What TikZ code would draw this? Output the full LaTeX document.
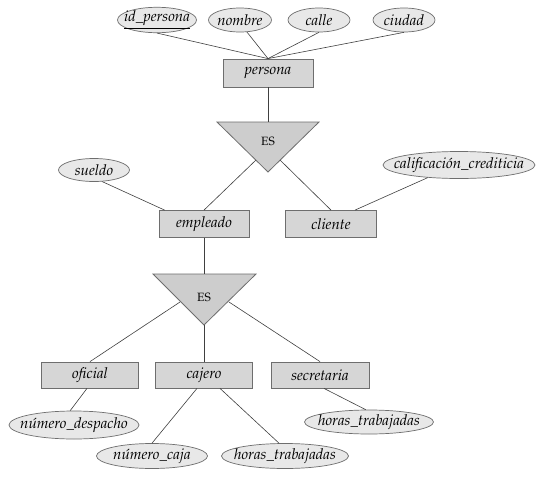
\documentclass[tikz,border=0pt]{standalone}
\usepackage[T1]{fontenc}
\usepackage{mathpazo}
\usetikzlibrary{calc,shapes.geometric}
\definecolor{rectfill}{HTML}{D6D6D6}
\definecolor{ellfill}{HTML}{E8E8E8}
\definecolor{trifill}{HTML}{CDCDCD}
\definecolor{edgegray}{HTML}{6E6E6E}
\newcommand\attrtxt[1]{\makebox[0pt]{#1}}
\tikzset{
  entity/.style={draw=edgegray, fill=rectfill, line width=0.8pt, inner sep=0pt,
    minimum height=27pt, font=\fontsize{15}{17}\selectfont\itshape},
  attr/.style={ellipse, draw=edgegray, fill=ellfill, line width=0.7pt, inner sep=0pt,
    minimum height=24pt, font=\fontsize{15}{17}\selectfont\itshape},
  isa/.style={draw=edgegray, fill=trifill, line width=0.8pt},
  isatext/.style={font=\fontsize{12}{14}\selectfont\upshape, inner sep=0pt},
  conn/.style={draw=black!75, line width=0.6pt}
}
\begin{document}
\begin{tikzpicture}[x=1pt,y=-1pt]
\useasboundingbox[fill=white] (0,0) rectangle (547,493);
% top attributes
\node[attr, minimum width=79pt] (id) at (157,20) {\attrtxt{\underline{id\_persona}}};
\node[attr, minimum width=63pt] (nombre) at (240,20) {\attrtxt{nombre}};
\node[attr, minimum width=62pt] (calle) at (319,20) {\attrtxt{calle}};
\node[attr, minimum width=62pt] (ciudad) at (404,20) {\attrtxt{ciudad}};
\node[entity, minimum width=90pt, minimum height=28pt] (persona) at (268,73) {persona};
% ISA 1
\coordinate (t1a) at (217,122);
\coordinate (t1b) at (319,122);
\coordinate (t1c) at (268,172);
\coordinate (t1top) at (268,122);
\coordinate (t1l) at (256,160);
\coordinate (t1r) at (280,160);
\draw[isa] (t1a) -- (t1b) -- (t1c) -- cycle;
\node[isatext] (es1) at (268,141) {ES};
\node[attr, minimum width=71pt, minimum height=23pt] (sueldo) at (94,170) {\attrtxt{sueldo}};
\node[attr, minimum width=152pt, minimum height=27pt] (calif) at (459,165) {\attrtxt{calificaci\'on\_crediticia}};
\node[entity, minimum width=90pt] (empleado) at (204,224) {empleado};
\node[entity, minimum width=91pt] (cliente) at (331,224) {cliente};
% ISA 2
\coordinate (t2a) at (153,274);
\coordinate (t2b) at (256,274);
\coordinate (t2c) at (204,325);
\coordinate (t2top) at (204,274);
\coordinate (t2l) at (180,302);
\coordinate (t2r) at (229,302);
\draw[isa] (t2a) -- (t2b) -- (t2c) -- cycle;
\node[isatext] (es2) at (204,297) {ES};
\node[entity, minimum width=97pt, minimum height=26pt] (oficial) at (90,375) {oficial};
\node[entity, minimum width=97pt, minimum height=26pt] (cajero) at (204,375) {cajero};
\node[entity, minimum width=98pt, minimum height=26pt] (secretaria) at (320,375) {secretaria};
\node[attr, minimum width=130pt, minimum height=28pt] (despacho) at (74,425) {\attrtxt{n\'umero\_despacho}};
\node[attr, minimum width=111pt, minimum height=25pt] (caja) at (152,456) {\attrtxt{n\'umero\_caja}};
\node[attr, minimum width=127pt, minimum height=25pt] (horas1) at (285,456) {\attrtxt{horas\_trabajadas}};
\node[attr, minimum width=129pt, minimum height=24pt] (horas2) at (369,422) {\attrtxt{horas\_trabajadas}};
% connectors
\draw[conn] (id.south) -- (persona.north);
\draw[conn] (nombre.-60) -- (persona.north);
\draw[conn] (calle.south) -- (persona.north);
\draw[conn] (ciudad.south) -- (persona.north);
\draw[conn] (persona.south) -- (t1top);
\draw[conn] (t1l) -- (empleado.north);
\draw[conn] (t1r) -- (cliente.north);
\draw[conn] (sueldo.-55) -- ($(empleado.north west)+(6,0)$);
\draw[conn] (calif.-158) -- ($(cliente.north)+(24,0)$);
\draw[conn] (empleado.south) -- (t2top);
\draw[conn] (t2l) -- (oficial.north);
\draw[conn] (t2c) -- (cajero.north);
\draw[conn] (t2r) -- (secretaria.north);
\draw[conn] ($(oficial.south)+(-3,0)$) -- (despacho.105);
\draw[conn] ($(cajero.south)+(-7,0)$) -- (caja.north);
\draw[conn] ($(cajero.south)+(16,0)$) -- (horas1.115);
\draw[conn] ($(secretaria.south)+(4,0)$) -- (horas2.105);
\end{tikzpicture}
\end{document}
